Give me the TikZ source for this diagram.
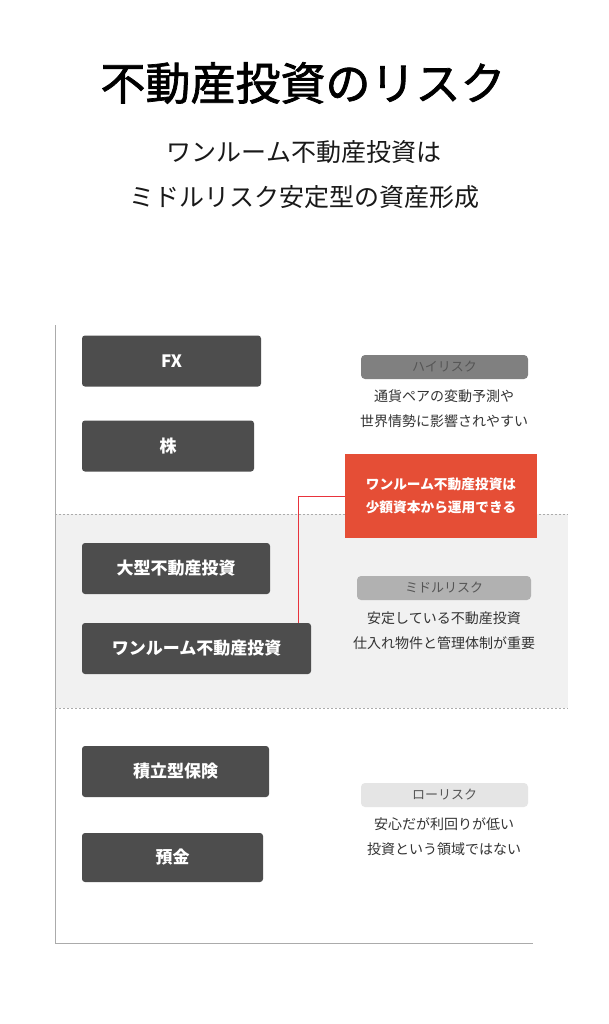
\documentclass[tikz,border=0pt]{standalone}
\usepackage{fontspec}
\setmainfont{Noto Sans CJK JP}
\newfontfamily\titlefont[FakeBold=1.6]{Noto Sans CJK JP}
\usetikzlibrary{calc}
\definecolor{boxgray}{HTML}{4D4D4D}
\definecolor{notered}{HTML}{E54E36}
\definecolor{linered}{HTML}{E8333C}
\definecolor{axisgray}{HTML}{ABABAB}
\definecolor{bandgray}{HTML}{F1F1F1}
\definecolor{hipill}{HTML}{808080}
\definecolor{midpill}{HTML}{B1B1B1}
\definecolor{lopill}{HTML}{E5E5E5}
\definecolor{pilltext}{HTML}{555555}
\definecolor{desctext}{HTML}{333333}
\begin{document}
\begin{tikzpicture}[x=1pt,y=-1pt,
  item/.style={fill=boxgray, rounded corners=3pt, text=white, inner sep=0pt,
    font=\bfseries\fontsize{17}{20}\selectfont, minimum height=51pt},
  pill/.style={rounded corners=4pt, inner sep=0pt, minimum height=24pt,
    minimum width=167pt, text=pilltext, font=\fontsize{13}{15}\selectfont},
  desc/.style={align=center, text=desctext, inner sep=0pt,
    font=\fontsize{14}{25}\selectfont},
  sepline/.style={axisgray, line width=1pt, dash pattern=on 2pt off 2pt},
]
\useasboundingbox (0,0) rectangle (609,1024);
\fill[white] (0,0) rectangle (609,1024);

% title
\node[font=\titlefont\fontsize{45}{50}\selectfont, text=black, inner sep=0pt] (title) at (303,83) {不動産投資のリスク};
\node[align=center, inner sep=0pt, text=black!90, font=\fontsize{25}{45}\selectfont] (sub) at (304,174.5) {ワンルーム不動産投資は\\ミドルリスク安定型の資産形成};

% middle band
\fill[bandgray] (55,514) rectangle (568,708);
\draw[sepline] (55,514) -- (568,514);
\draw[sepline] (55,708) -- (568,708);

% axes
\draw[axisgray, line width=1pt] (55,325) -- (55,943) -- (533,943);

% left items
\node[item, minimum width=179pt] (fx) at (171.5,361) {FX};
\node[item, minimum width=172pt] (kabu) at (168,446) {株};
\node[item, minimum width=188pt] (ogata) at (176,568.5) {大型不動産投資};
\node[item, minimum width=229pt] (wr) at (196.5,648.5) {ワンルーム不動産投資};
\node[item, minimum width=187pt] (tsumi) at (175.5,771.5) {積立型保険};
\node[item, minimum width=181pt, minimum height=49pt] (yokin) at (172.5,857.5) {預金};

% risk pills
\node[pill, fill=hipill] (hi) at (444.5,367) {ハイリスク};
\node[desc] (hidesc) at (444,409) {通貨ペアの変動予測や\\世界情勢に影響されやすい};
\node[pill, fill=midpill, minimum width=174pt] (mid) at (444,588) {ミドルリスク};
\node[desc] (middesc) at (444,630.5) {安定している不動産投資\\仕入れ物件と管理体制が重要};
\node[pill, fill=lopill] (lo) at (444.5,795) {ローリスク};
\node[desc] (lodesc) at (444,837) {安心だが利回りが低い\\投資という領域ではない};

% note
\node[fill=notered, text=white, inner sep=0pt, minimum width=192pt, minimum height=84pt,
  align=center, font=\bfseries\fontsize{13.7}{23.5}\selectfont] (note) at (441,496)
  {ワンルーム不動産投資は\\少額資本から運用できる};
\coordinate (wrtop) at ($(wr.north east)+(-13,0)$);
\draw[linered, line width=1pt] (note.west) -| (wrtop);
\end{tikzpicture}
\end{document}
